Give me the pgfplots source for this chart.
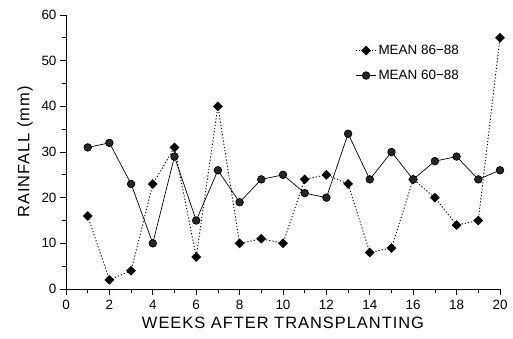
\documentclass[border=0pt]{standalone}
\usepackage{fontspec}
\setmainfont{Liberation Sans}
\usepackage{pgfplots}
\pgfplotsset{compat=1.18}
\begin{document}
\begin{tikzpicture}[x=1bp,y=1bp]
\useasboundingbox (-66bp,-50bp) rectangle (447bp,289bp);
\begin{axis}[
  at={(0bp,0bp)}, anchor=south west,
  scale only axis, width=434bp, height=274bp,
  xmin=0, xmax=20, ymin=0, ymax=60,
  axis lines*=left, axis line style={line width=0.8pt},
  xtick={0,2,...,20}, minor xtick={1,3,...,19},
  ytick={0,10,...,60}, minor ytick={5,15,...,55},
  tick align=outside, major tick length=6bp, minor tick length=4bp,
  tick style={black, line width=0.8pt},
  /pgf/number format/assume math mode=true,
  ticklabel style={font=\fontsize{13.5}{14}\selectfont},
  xticklabel style={yshift=-2bp},
  xlabel={WEEKS AFTER TRANSPLANTING}, ylabel={RAINFALL (mm)},
  label style={font=\fontsize{16.5}{18}\selectfont\addfontfeatures{LetterSpace=6}},
  xlabel style={yshift=0bp}, ylabel style={yshift=2bp},
  legend style={draw=none, fill=none, at={(0.66,0.905)}, anchor=north west,
    font=\fontsize{13.5}{15}\selectfont, row sep=10bp},
  legend cell align=left,
  legend image code/.code={\draw[#1] (0bp,0bp) -- (20bp,0bp); \draw[#1,mark repeat=2,mark phase=2] plot coordinates {(0bp,0bp) (10bp,0bp) (20bp,0bp)};},
]
\addplot[black, dash pattern=on 1.2bp off 2bp, line width=0.9pt, mark=square*, mark size=3bp, mark options={solid, fill=black, rotate=45}] coordinates {
(1,16) (2,2) (3,4) (4,23) (5,31) (6,7) (7,40) (8,10) (9,11) (10,10)
(11,24) (12,25) (13,23) (14,8) (15,9) (16,24) (17,20) (18,14) (19,15) (20,55)};
\addlegendentry{MEAN 86\symbol{"2212}88}
\addplot[black, line width=0.7pt, mark=*, mark size=3.8bp, mark options={solid, fill=black!85}] coordinates {
(1,31) (2,32) (3,23) (4,10) (5,29) (6,15) (7,26) (8,19) (9,24) (10,25)
(11,21) (12,20) (13,34) (14,24) (15,30) (16,24) (17,28) (18,29) (19,24) (20,26)};
\addlegendentry{MEAN 60\symbol{"2212}88}
\end{axis}
\end{tikzpicture}
\end{document}
